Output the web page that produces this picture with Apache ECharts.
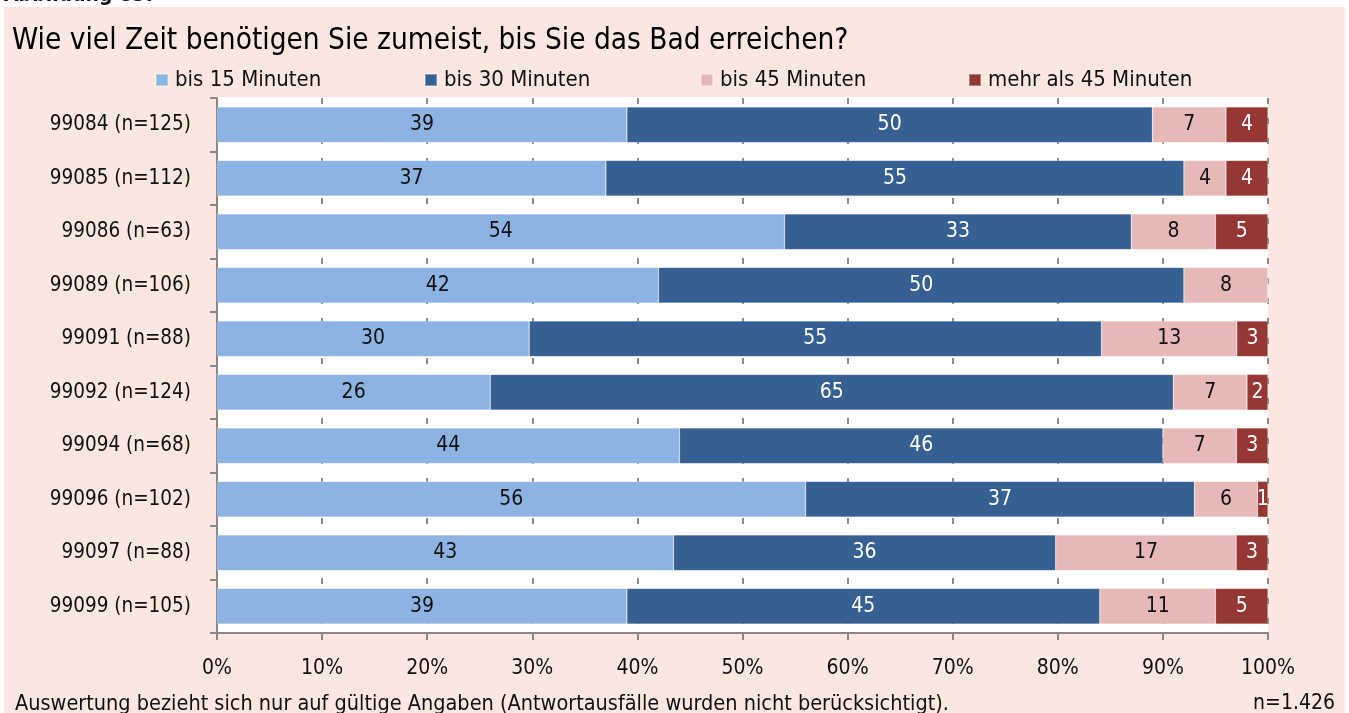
<!DOCTYPE html>
<html>
<head>
<meta charset="utf-8">
<script src="https://cdn.jsdelivr.net/npm/echarts@6/dist/echarts.min.js"></script>
<style>
  html, body { margin: 0; padding: 0; background: #ffffff; }
  #chart { width: 1349px; height: 713px; }
</style>
</head>
<body>
<div id="chart"></div>
<script>
// Postal code areas with number of respondents
const categories = [
  '99084 (n=125)', '99085 (n=112)', '99086 (n=63)', '99089 (n=106)', '99091 (n=88)',
  '99092 (n=124)', '99094 (n=68)', '99096 (n=102)', '99097 (n=88)', '99099 (n=105)'
];
const seriesNames = ['bis 15 Minuten', 'bis 30 Minuten', 'bis 45 Minuten', 'mehr als 45 Minuten'];
// Share of answers per travel time class (percent, as labelled)
const bis15 = [39, 37, 54, 42, 30, 26, 44, 56, 43, 39];
const bis30 = [50, 55, 33, 50, 55, 65, 46, 37, 36, 45];
const bis45 = [7, 4, 8, 8, 13, 7, 7, 6, 17, 11];
const mehr45 = [4, 4, 5, 0, 3, 2, 3, 1, 3, 5];
const xTicks = ['0%', '10%', '20%', '30%', '40%', '50%', '60%', '70%', '80%', '90%', '100%'];

const FONT = '"DejaVu Sans Condensed", "Liberation Sans Narrow", "Noto Sans", sans-serif';
const colors = ['#8db3e2', '#366092', '#e6b9b8', '#953735'];
const labelColors = ['#111111', '#ffffff', '#111111', '#ffffff'];
const allValues = [bis15, bis30, bis45, mehr45];

// Each bar is scaled to the total of its row so it fills 0–100 %
const totals = categories.map((_, i) => allValues.reduce((s, arr) => s + arr[i], 0));

const series = allValues.map((vals, k) => ({
  name: seriesNames[k],
  type: 'bar',
  stack: 'total',
  barWidth: '67%',
  itemStyle: { color: colors[k], borderColor: 'rgba(255,255,255,0.35)', borderWidth: 0.6 },
  label: {
    show: true,
    position: 'inside',
    color: labelColors[k],
    fontFamily: FONT,
    fontSize: 21,
    formatter: p => (vals[p.dataIndex] > 0 ? String(vals[p.dataIndex]) : '')
  },
  emphasis: { disabled: true },
  data: vals.map((v, i) => v / totals[i] * 100)
}));

const legendLeft = [150, 419, 695, 963];
const legends = seriesNames.map((n, k) => ({
  data: [n],
  left: legendLeft[k],
  top: 64,
  itemWidth: 12,
  itemHeight: 12,
  itemGap: 0,
  icon: 'rect',
  textStyle: { fontFamily: FONT, fontSize: 22, color: '#111111', padding: [0, 0, 0, 2] }
}));

const chart = echarts.init(document.getElementById('chart'), null, { renderer: 'canvas' });
chart.setOption({
  animation: false,
  backgroundColor: '#ffffff',
  graphic: [
    { type: 'rect', z: -10, shape: { x: 4, y: 7, width: 1341, height: 706 }, style: { fill: '#f9e7e0' } },
    { type: 'rect', z: -9, shape: { x: 217, y: 97, width: 1051, height: 536 }, style: { fill: '#ffffff' } },
    { type: 'text', left: 4, top: -15, style: { text: 'Abbildung 83:', font: 'bold 21px ' + FONT, fill: '#111111' } },
    { type: 'text', left: 12, top: 26, style: { text: 'Wie viel Zeit benötigen Sie zumeist, bis Sie das Bad erreichen?', font: '29.5px ' + FONT, fill: '#000000' } },
    { type: 'text', left: 15, top: 693, style: { text: 'Auswertung bezieht sich nur auf gültige Angaben (Antwortausfälle wurden nicht berücksichtigt).', font: '21.5px ' + FONT, fill: '#111111' } },
    { type: 'text', right: 14, top: 693, style: { text: 'n=1.426', font: '21px ' + FONT, fill: '#111111' } }
  ],
  legend: legends,
  grid: { left: 217, right: 81, top: 98, bottom: 80, containLabel: false },
  xAxis: {
    type: 'value',
    min: 0,
    max: 100,
    interval: 10,
    axisLine: { show: true, lineStyle: { color: '#888888', width: 2 } },
    axisTick: { show: true, length: 7, lineStyle: { color: '#888888', width: 2 } },
    axisLabel: {
      fontFamily: FONT, fontSize: 21, color: '#111111', margin: 25,
      formatter: v => xTicks[Math.round(v / 10)]
    },
    splitLine: { show: true, lineStyle: { color: '#8c8c8c', type: [6, 14], width: 2 } }
  },
  yAxis: {
    type: 'category',
    inverse: true,
    data: categories,
    axisLine: { show: true, lineStyle: { color: '#888888', width: 2 } },
    axisTick: { show: true, length: 7, lineStyle: { color: '#888888', width: 2 } },
    axisLabel: { fontFamily: FONT, fontSize: 20.5, color: '#111111', margin: 26 }
  },
  series: series
});
</script>
</body>
</html>
